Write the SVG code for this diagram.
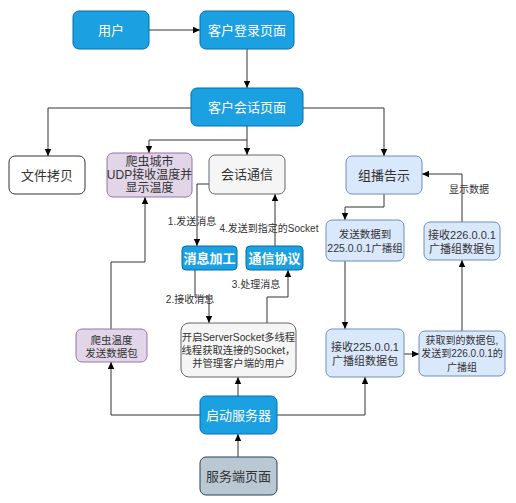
<svg xmlns="http://www.w3.org/2000/svg" width="516" height="503" viewBox="0 0 516 503">
<defs>
<marker id="arr" markerWidth="8" markerHeight="8" refX="7" refY="4" orient="auto" markerUnits="userSpaceOnUse">
<path d="M0,0.8 L7,4 L0,7.2 Z" fill="#000"/>
</marker>
<style>
text{font-family:"Liberation Sans","Noto Sans CJK SC",sans-serif;text-anchor:middle;dominant-baseline:central;}
.blue rect{fill:#1ba1e2;stroke:#006eaf;stroke-width:1;}
.blue text{fill:#fff;font-size:13px;}
.b text{font-weight:bold;}
.white rect{fill:#fff;stroke:#333;stroke-width:1;}
.gray rect{fill:#f5f5f5;stroke:#666;stroke-width:1;}
.purple rect{fill:#e1d5e7;stroke:#9673a6;stroke-width:1;}
.lblue rect{fill:#dae8fc;stroke:#6c8ebf;stroke-width:1;}
.slate rect{fill:#bac8d3;stroke:#23445d;stroke-width:1;}
.dark text{fill:#333;}
.conn path{fill:none;stroke:#333;stroke-width:1;marker-end:url(#arr);}
.lbl{font-size:10px;fill:#333;}
</style>
</defs>
<rect width="516" height="503" fill="#fff"/>
<g class="conn">
<path d="M149,30 H200"/>
<path d="M247,49 V88"/>
<path d="M191,108 H48 V156"/>
<path d="M303,108 H384 V156"/>
<path d="M247,126 V155"/>
<path d="M247,140 H149 V153"/>
<path d="M209,184 H197 V246"/>
<path d="M195,270 V297 H209 V323"/>
<path d="M267,323 V297 H288 V270"/>
<path d="M275,246 V194"/>
<path d="M238,396 V377"/>
<path d="M238,457 V434"/>
<path d="M200,415 H111 V362"/>
<path d="M111,329 V262 H145 V197"/>
<path d="M277,415 H365 V377"/>
<path d="M384,194 V207 H345 V220"/>
<path d="M345,261 V329"/>
<path d="M404,354 H419"/>
<path d="M462,331 V260"/>
<path d="M462,222 V174 H422"/>
</g>
<g id="labels">
<text class="lbl" x="192" y="221">1.发送消息</text>
<text class="lbl" x="190" y="299">2.接收消息</text>
<text class="lbl" x="256" y="284">3.处理消息</text>
<text class="lbl" x="269" y="228">4.发送到指定的Socket</text>
<text class="lbl" x="469" y="189">显示数据</text>
</g>
<g id="user" class="blue"><rect x="73" y="11" width="76" height="38" rx="6"/><text x="111" y="30">用户</text></g>
<g id="login" class="blue"><rect x="200" y="11" width="94" height="38" rx="6"/><text x="247" y="30">客户登录页面</text></g>
<g id="session" class="blue"><rect x="191" y="88" width="112" height="38" rx="6"/><text x="247" y="107">客户会话页面</text></g>
<g id="filecopy" class="white dark"><rect x="9" y="156" width="76" height="38" rx="6"/><text x="47" y="175" font-size="13">文件拷贝</text></g>
<g id="crawler" class="purple dark"><rect x="107" y="153" width="85" height="44" rx="6"/>
<text x="149.5" y="162" font-size="12">爬虫城市</text><text x="149.5" y="175" font-size="12">UDP接收温度并</text><text x="149.5" y="188" font-size="12">显示温度</text></g>
<g id="chat" class="gray dark"><rect x="209" y="155" width="76" height="39" rx="6"/><text x="247" y="174.5" font-size="13">会话通信</text></g>
<g id="multicast" class="lblue dark"><rect x="346" y="156" width="76" height="38" rx="6"/><text x="384" y="175" font-size="13">组播告示</text></g>
<g id="msgproc" class="blue b"><rect x="182" y="246" width="55" height="24" rx="4"/><text x="209.5" y="258">消息加工</text></g>
<g id="protocol" class="blue b"><rect x="246" y="246" width="57" height="24" rx="4"/><text x="274.5" y="258">通信协议</text></g>
<g id="send225" class="lblue dark"><rect x="326" y="220" width="78" height="41" rx="6"/>
<text x="365" y="233.5" font-size="10.5">发送数据到</text><text x="365" y="247.5" font-size="10.5">225.0.0.1广播组</text></g>
<g id="recv226" class="lblue dark"><rect x="424" y="222" width="76" height="38" rx="6"/>
<text x="462" y="234.5" font-size="11">接收226.0.0.1</text><text x="462" y="248.5" font-size="11">广播组数据包</text></g>
<g id="crawlsend" class="purple dark"><rect x="76" y="329" width="71" height="33" rx="6"/>
<text x="111.5" y="339.5" font-size="10.5">爬虫温度</text><text x="111.5" y="352.5" font-size="10.5">发送数据包</text></g>
<g id="server" class="gray dark"><rect x="181" y="323" width="115" height="54" rx="8"/>
<text x="238.5" y="337" font-size="10.3">开启ServerSocket多线程</text><text x="238.5" y="350" font-size="10.3">线程获取连接的Socket，</text><text x="238.5" y="363" font-size="10.3">并管理客户端的用户</text></g>
<g id="recv225" class="lblue dark"><rect x="326" y="329" width="78" height="48" rx="6"/>
<text x="365" y="347" font-size="11">接收225.0.0.1</text><text x="365" y="361" font-size="11">广播组数据包</text></g>
<g id="forward" class="lblue dark"><rect x="419" y="331" width="86" height="45" rx="6"/>
<text x="462" y="340" font-size="10">获取到的数据包,</text><text x="462" y="353.5" font-size="10">发送到226.0.0.1的</text><text x="462" y="367" font-size="10">广播组</text></g>
<g id="startserver" class="blue"><rect x="200" y="396" width="77" height="38" rx="6"/><text x="238.5" y="415" font-size="13.5">启动服务器</text></g>
<g id="serverpage" class="slate dark"><rect x="200" y="457" width="77" height="38" rx="6"/><text x="238.5" y="476" font-size="13">服务端页面</text></g>
</svg>
